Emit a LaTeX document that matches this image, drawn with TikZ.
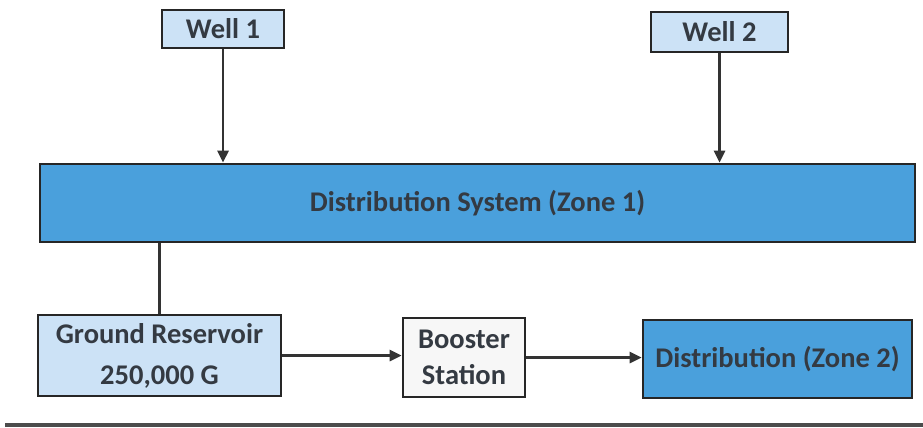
\documentclass[tikz,border=0pt]{standalone}
\usepackage{fontspec}
\setmainfont{Carlito}
\usetikzlibrary{arrows.meta}

\definecolor{paleblue}{RGB}{204,226,246}
\definecolor{zoneblue}{RGB}{74,160,220}
\definecolor{textgray}{RGB}{52,58,66}
\tikzset{
    unit/.style={draw=black!85,line width=2.6pt,text=textgray,font=\bfseries\fontsize{28.5}{36}\selectfont,inner sep=0pt,align=center},
    feed/.style={-{Triangle[length=12pt,width=11pt]},line width=2.6pt,draw=black!80},
}

\begin{document}
\begin{tikzpicture}[x=1pt,y=-1pt]
    \useasboundingbox (0,0) rectangle (923,428);
    \node [unit,fill=paleblue,minimum width=122pt,minimum height=38pt] (well1) at (223,29) {Well 1};
    \node [unit,fill=paleblue,minimum width=137pt,minimum height=40pt] (well2) at (719.5,32) {Well 2};
    \node [unit,fill=zoneblue,minimum width=875pt,minimum height=78pt] (zone1) at (477.5,203) {Distribution System (Zone 1)};
    \node [unit,fill=paleblue,minimum width=243pt,minimum height=81pt] (reservoir) at (159.5,355.5) {Ground Reservoir\\[5pt]250,000 G};
    \node [unit,fill=black!3,minimum width=122pt,minimum height=79pt] (booster) at (464,357.5) {Booster\\Station};
    \node [unit,fill=zoneblue,minimum width=269pt,minimum height=78pt] (zone2) at (777.5,359) {Distribution (Zone 2)};

    \draw [feed] (well1) -- (well1 |- zone1.north);
    \draw [feed] (well2) -- (well2 |- zone1.north);
    \draw [line width=2.6pt,draw=black!80] (reservoir.north) -- (reservoir.north |- zone1.south);
    \draw [feed] (reservoir.east) -- (reservoir.east -| booster.west);
    \draw [feed] (booster.east) -- (booster.east -| zone2.west);

    \draw [line width=3.5pt,draw=black!70] (5,425) -- (923,425);
\end{tikzpicture}
\end{document}
